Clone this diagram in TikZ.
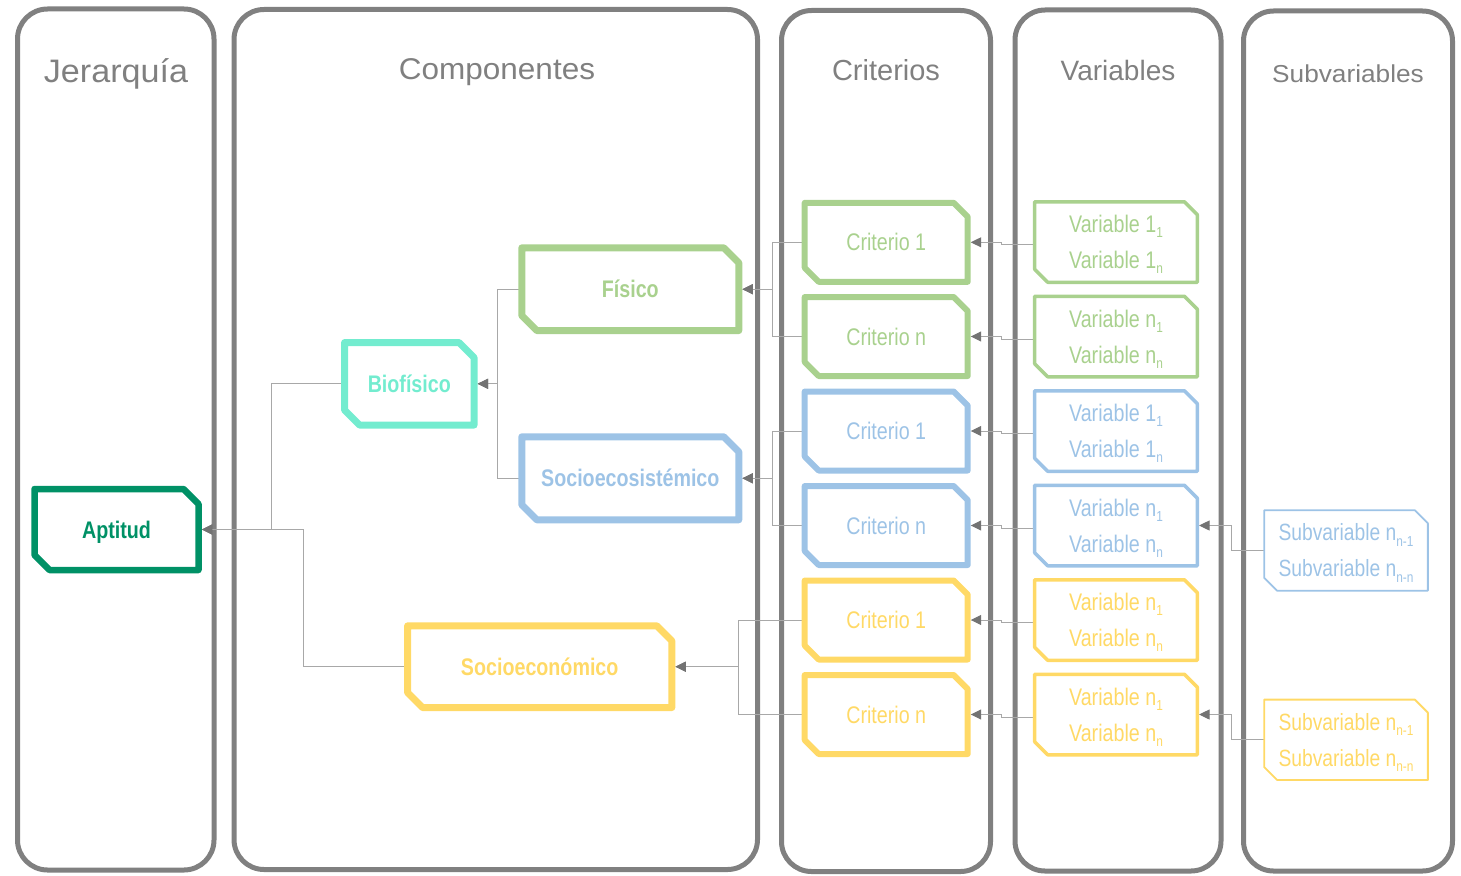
\documentclass[tikz,border=0pt]{standalone}
\usepackage{fontspec}
\setmainfont{Liberation Sans}
\newfontfamily\nar[FakeStretch=0.82]{Liberation Sans}
\usetikzlibrary{arrows.meta}
\definecolor{pgray}{RGB}{128,128,128}
\definecolor{lgray}{RGB}{168,168,168}
\definecolor{agray}{RGB}{115,115,115}
\definecolor{cApt}{RGB}{0,145,102}
\definecolor{cBio}{RGB}{115,236,207}
\definecolor{cGr}{RGB}{169,209,142}
\definecolor{cBl}{RGB}{157,195,230}
\definecolor{cYe}{RGB}{255,217,102}
\newcommand\sbx[1]{\smash{\raisebox{-0.22em}{\fontsize{14.5}{14.5}\selectfont #1}}}
\newcommand\chbox[4]{%
  \draw[#2, line width=#3, line join=round]
    (#1.north west) -- ([xshift=-#4]#1.north east) -- ([yshift=-#4]#1.north east)
    -- (#1.south east) -- ([xshift=#4]#1.south west) -- ([yshift=#4]#1.south west) -- cycle;}
\tikzset{
  panel/.style={draw=pgray, line width=5pt, rounded corners=30pt},
  header/.style={text=pgray, anchor=base, inner sep=0pt},
  bigbox/.style={inner sep=0pt, outer sep=0pt, text height=17pt, text depth=0pt, font=\nar\bfseries\fontsize{24}{28}\selectfont},
  critbox/.style={inner sep=0pt, outer sep=0pt, minimum width=163pt, minimum height=79pt, font=\nar\fontsize{24}{28}\selectfont},
  varbox/.style={inner sep=0pt, outer sep=0pt, minimum width=162.6pt, minimum height=80.5pt, align=center, font=\nar\fontsize{24}{36}\selectfont},
  subbox/.style={inner sep=0pt, outer sep=0pt, minimum width=163.7pt, minimum height=80.4pt, align=center, font=\nar\fontsize{23.5}{36}\selectfont},
  conn/.style={draw=lgray, line width=1pt},
  arr/.style={conn, -{Triangle[length=10.5pt, width=10pt, color=agray]}}
}
\begin{document}
\begin{tikzpicture}[x=1pt, y=-1pt]
\useasboundingbox (0,0) rectangle (1461,875);
% panels
\draw[panel] (17.5,9) rectangle (214,870);
\draw[panel] (234,9.5) rectangle (757.5,869.5);
\draw[panel] (781.5,10.5) rectangle (990.5,871.5);
\draw[panel] (1015,10) rectangle (1221,871);
\draw[panel] (1243.5,11) rectangle (1452.5,871);
% headers
\node[header, font=\fontsize{32.5}{34}\selectfont] (hJ) at (116,82) {\scalebox{1.05}[1]{Jerarquía}};
\node[header, font=\fontsize{30}{32}\selectfont] (hC) at (497,79) {\scalebox{1.05}[1]{Componentes}};
\node[header, font=\fontsize{29}{30}\selectfont] (hK) at (886,80.5) {Criterios};
\node[header, font=\fontsize{28}{30}\selectfont] (hV) at (1118,80.5) {Variables};
\node[header, font=\fontsize{24.5}{30}\selectfont] (hS) at (1348,82) {\scalebox{1.07}[1]{Subvariables}};
% junction x positions
\coordinate (j1) at (271,0);
\coordinate (j2) at (303,0);
\coordinate (j3) at (497.5,0);
\coordinate (j4) at (772,0);
\coordinate (j5) at (738.5,0);
% main nodes
\node[bigbox, minimum width=164pt, minimum height=81pt, text=cApt] (apt) at (116.5,529.5) {Aptitud};
\node[bigbox, minimum width=129.5pt, minimum height=82.5pt, text=cBio] (bio) at (409.3,383.8) {Biofísico};
\node[bigbox, minimum width=217pt, minimum height=82.7pt, text=cGr] (fis) at (630.3,289.2) {Físico};
\node[bigbox, minimum width=217pt, minimum height=83pt, text=cBl] (sec) at (630.3,478.3) {Socioecosistémico};
\node[bigbox, minimum width=264.3pt, minimum height=81.7pt, text=cYe] (soe) at (539.7,666.7) {Socioeconómico};
% criterios
\node[critbox, text=cGr] (cg1) at (886.2,242.3) {Criterio 1};
\node[critbox, text=cGr] (cgn) at (886.2,336.5) {Criterio n};
\node[critbox, text=cBl] (cb1) at (886.2,431) {Criterio 1};
\node[critbox, text=cBl] (cbn) at (886.2,525.5) {Criterio n};
\node[critbox, text=cYe] (cy1) at (886.2,620) {Criterio 1};
\node[critbox, text=cYe] (cyn) at (886.2,714.5) {Criterio n};
% variables
\node[varbox, text=cGr] (vg1) at (1116,242) {Variable 1\sbx{1}\\Variable 1\sbx{n}};
\node[varbox, text=cGr] (vgn) at (1116,336.5) {Variable n\sbx{1}\\Variable n\sbx{n}};
\node[varbox, text=cBl] (vb1) at (1116,431) {Variable 1\sbx{1}\\Variable 1\sbx{n}};
\node[varbox, text=cBl] (vbn) at (1116,525.5) {Variable n\sbx{1}\\Variable n\sbx{n}};
\node[varbox, text=cYe] (vy1) at (1116,620) {Variable n\sbx{1}\\Variable n\sbx{n}};
\node[varbox, text=cYe] (vyn) at (1116,714.5) {Variable n\sbx{1}\\Variable n\sbx{n}};
% subvariables
\node[subbox, text=cBl] (sb) at (1346,550.5) {Subvariable n\sbx{n-1}\\Subvariable n\sbx{n-n}};
\node[subbox, text=cYe] (sy) at (1346,739.8) {Subvariable n\sbx{n-1}\\Subvariable n\sbx{n-n}};
% connectors
\draw[arr, shorten >=3.25pt] (bio.west) -- (bio.west -| j1) |- (apt.east);
\draw[arr, shorten >=3.25pt] (soe.west) -- (soe.west -| j2) |- (apt.east);
\draw[arr, shorten >=3.5pt] (fis.west) -- (fis.west -| j3) |- (bio.east);
\draw[arr, shorten >=3.5pt] (sec.west) -- (sec.west -| j3) |- (bio.east);
\draw[arr, shorten >=3.5pt] (cg1.west) -- (cg1.west -| j4) |- (fis.east);
\draw[arr, shorten >=3.5pt] (cgn.west) -- (cgn.west -| j4) |- (fis.east);
\draw[arr, shorten >=3.5pt] (cb1.west) -- (cb1.west -| j4) |- (sec.east);
\draw[arr, shorten >=3.5pt] (cbn.west) -- (cbn.west -| j4) |- (sec.east);
\draw[arr, shorten >=3.5pt] (cy1.west) -- (cy1.west -| j5) |- (soe.east);
\draw[arr, shorten >=3.5pt] (cyn.west) -- (cyn.west -| j5) |- (soe.east);
\draw[arr, shorten >=3pt] ([yshift=-2.5pt]vg1.west) -- ++(-33.5,0) |- (cg1.east);
\draw[arr, shorten >=3pt] ([yshift=-2.5pt]vgn.west) -- ++(-33.5,0) |- (cgn.east);
\draw[arr, shorten >=3pt] ([yshift=-2.5pt]vb1.west) -- ++(-33.5,0) |- (cb1.east);
\draw[arr, shorten >=3pt] ([yshift=-2.5pt]vbn.west) -- ++(-33.5,0) |- (cbn.east);
\draw[arr, shorten >=3pt] ([yshift=-2.5pt]vy1.west) -- ++(-33.5,0) |- (cy1.east);
\draw[arr, shorten >=3pt] ([yshift=-2.5pt]vyn.west) -- ++(-33.5,0) |- (cyn.east);
\draw[arr, shorten >=1.75pt] (sb.west) -- ++(-33,0) |- (vbn.east);
\draw[arr, shorten >=1.75pt] (sy.west) -- ++(-33,0) |- (vyn.east);
% box outlines
\chbox{apt}{cApt}{6.5pt}{15pt}
\chbox{bio}{cBio}{7pt}{15pt}
\chbox{fis}{cGr}{7pt}{15pt}
\chbox{sec}{cBl}{7pt}{15pt}
\chbox{soe}{cYe}{7pt}{15pt}
\chbox{cg1}{cGr}{6pt}{14pt}
\chbox{cgn}{cGr}{6pt}{14pt}
\chbox{cb1}{cBl}{6pt}{14pt}
\chbox{cbn}{cBl}{6pt}{14pt}
\chbox{cy1}{cYe}{6pt}{14pt}
\chbox{cyn}{cYe}{6pt}{14pt}
\chbox{vg1}{cGr}{3.5pt}{13pt}
\chbox{vgn}{cGr}{3.5pt}{13pt}
\chbox{vb1}{cBl}{3.5pt}{13pt}
\chbox{vbn}{cBl}{3.5pt}{13pt}
\chbox{vy1}{cYe}{3.5pt}{13pt}
\chbox{vyn}{cYe}{3.5pt}{13pt}
\chbox{sb}{cBl}{1.8pt}{13pt}
\chbox{sy}{cYe}{1.8pt}{13pt}
\end{tikzpicture}
\end{document}
